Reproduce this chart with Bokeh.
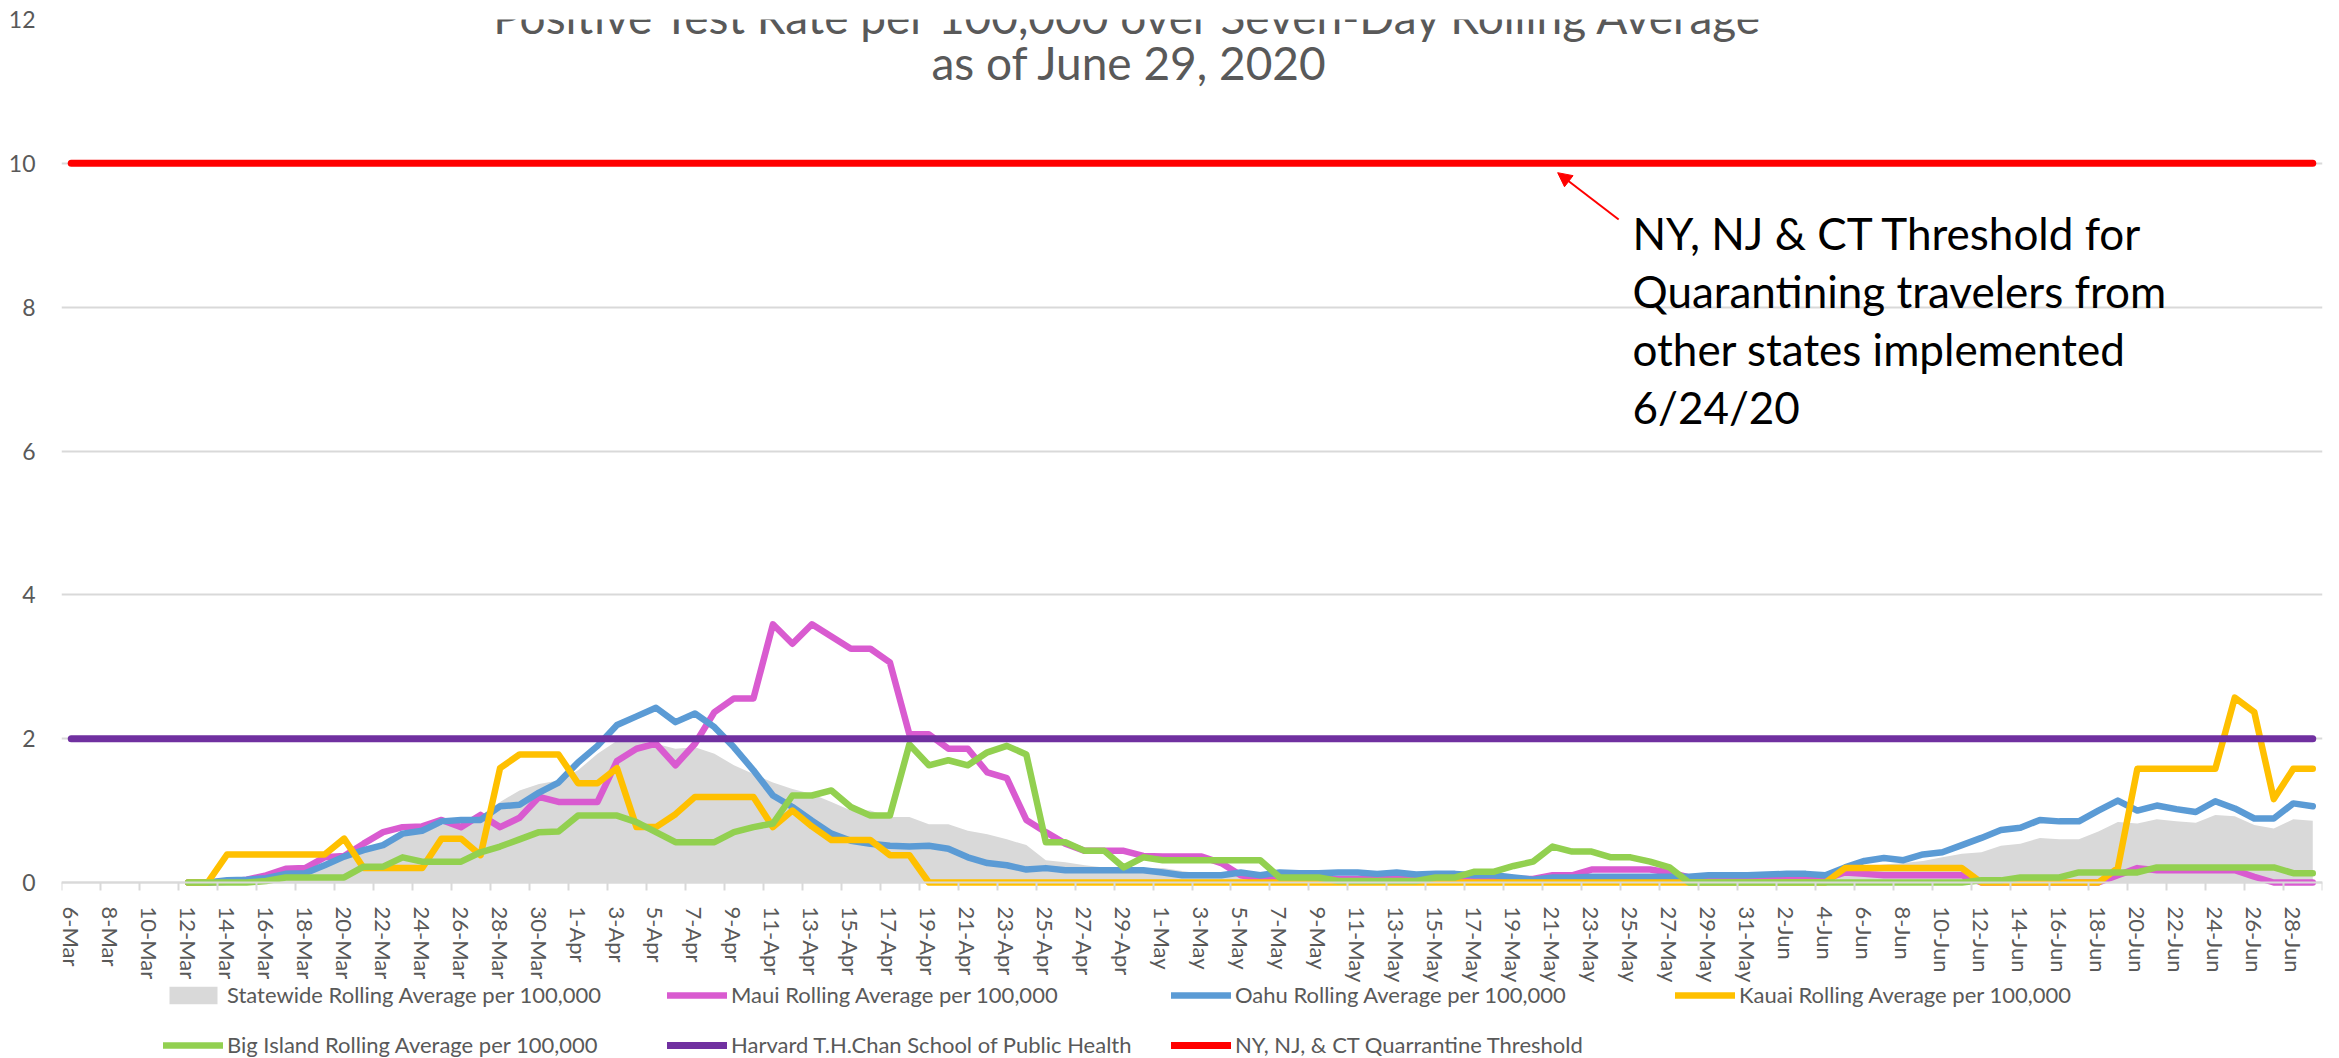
import datetime as dt
from bokeh.plotting import figure
from bokeh.models import (ColumnDataSource, Range1d, FixedTicker, Label, Arrow,
                          NormalHead, Legend, LegendItem)
from bokeh.embed import file_html
from bokeh.resources import INLINE

N = None
# ---------------- data ----------------
start_date = dt.date(2020, 3, 6)
n_days = 116
dates = [start_date + dt.timedelta(days=i) for i in range(n_days)]
date_labels = [f"{d.day}-{d.strftime('%b')}" for d in dates]
tick_days = list(range(0, n_days, 2))

statewide = [N, N, N, N, N, N, 0.00, 0.02, 0.04, 0.06,
             0.10, 0.14, 0.18, 0.28, 0.36, 0.45, 0.55, 0.65, 0.72, 0.80,
             0.85, 0.92, 1.12, 1.28, 1.37, 1.42, 1.56, 1.79, 1.97, 1.97,
             1.93, 1.86, 1.88, 1.79, 1.63, 1.51, 1.39, 1.30, 1.23, 1.12,
             1.00, 1.00, 0.91, 0.91, 0.81, 0.81, 0.72, 0.67, 0.60, 0.52,
             0.31, 0.28, 0.24, 0.21, 0.20, 0.20, 0.20, 0.16, 0.12, 0.12,
             0.10, 0.09, 0.08, 0.08, 0.08, 0.08, 0.07, 0.07, 0.07, 0.06,
             0.06, 0.06, 0.06, 0.06, 0.05, 0.05, 0.07, 0.07, 0.08, 0.08,
             0.08, 0.08, 0.07, 0.05, 0.05, 0.05, 0.05, 0.05, 0.05, 0.05,
             0.06, 0.15, 0.22, 0.25, 0.27, 0.30, 0.35, 0.40, 0.42, 0.51,
             0.54, 0.62, 0.60, 0.60, 0.71, 0.84, 0.82, 0.88, 0.85, 0.83,
             0.94, 0.92, 0.80, 0.75, 0.88, 0.86]

maui = [N, N, N, N, N, N, 0.00, 0.00, 0.01, 0.04,
        0.10, 0.19, 0.20, 0.35, 0.37, 0.54, 0.70, 0.77, 0.78, 0.87,
        0.77, 0.94, 0.77, 0.90, 1.19, 1.12, 1.12, 1.12, 1.69, 1.86,
        1.93, 1.63, 1.93, 2.37, 2.56, 2.56, 3.59, 3.32, 3.59, 3.42,
        3.25, 3.25, 3.06, 2.06, 2.06, 1.86, 1.86, 1.53, 1.45, 0.87,
        0.70, 0.54, 0.44, 0.44, 0.44, 0.37, 0.36, 0.36, 0.36, 0.27,
        0.10, 0.05, 0.05, 0.05, 0.05, 0.05, 0.05, 0.05, 0.05, 0.05,
        0.05, 0.05, 0.05, 0.05, 0.05, 0.05, 0.10, 0.10, 0.18, 0.18,
        0.18, 0.18, 0.14, 0.07, 0.05, 0.05, 0.05, 0.05, 0.05, 0.05,
        0.05, 0.14, 0.12, 0.10, 0.10, 0.10, 0.10, 0.10, 0.00, 0.00,
        0.00, 0.00, 0.00, 0.00, 0.00, 0.10, 0.20, 0.17, 0.17, 0.17,
        0.17, 0.17, 0.08, 0.00, 0.00, 0.00]

oahu = [N, N, N, N, N, N, 0.00, 0.00, 0.03, 0.04,
        0.06, 0.12, 0.13, 0.24, 0.36, 0.45, 0.52, 0.68, 0.72, 0.85,
        0.87, 0.87, 1.06, 1.08, 1.25, 1.39, 1.67, 1.90, 2.19, 2.31,
        2.43, 2.23, 2.35, 2.16, 1.88, 1.56, 1.21, 1.05, 0.86, 0.68,
        0.58, 0.54, 0.51, 0.50, 0.51, 0.47, 0.35, 0.27, 0.24, 0.18,
        0.20, 0.17, 0.17, 0.17, 0.17, 0.17, 0.14, 0.10, 0.10, 0.10,
        0.14, 0.10, 0.14, 0.13, 0.13, 0.14, 0.14, 0.12, 0.14, 0.11,
        0.12, 0.12, 0.10, 0.10, 0.07, 0.04, 0.07, 0.07, 0.08, 0.08,
        0.08, 0.08, 0.08, 0.08, 0.10, 0.10, 0.10, 0.11, 0.12, 0.12,
        0.10, 0.21, 0.30, 0.34, 0.31, 0.39, 0.42, 0.52, 0.62, 0.73,
        0.76, 0.87, 0.85, 0.85, 1.00, 1.14, 1.00, 1.07, 1.02, 0.98,
        1.13, 1.03, 0.89, 0.89, 1.10, 1.06]

kauai = [N, N, N, N, N, N, 0.00, 0.00, 0.39, 0.39,
         0.39, 0.39, 0.39, 0.39, 0.61, 0.20, 0.20, 0.20, 0.20, 0.61,
         0.61, 0.38, 1.59, 1.78, 1.78, 1.78, 1.38, 1.38, 1.59, 0.77,
         0.77, 0.95, 1.19, 1.19, 1.19, 1.19, 0.77, 1.00, 0.78, 0.59,
         0.59, 0.59, 0.38, 0.38, 0.00, 0.00, 0.00, 0.00, 0.00, 0.00,
         0.00, 0.00, 0.00, 0.00, 0.00, 0.00, 0.00, 0.00, 0.00, 0.00,
         0.00, 0.00, 0.00, 0.00, 0.00, 0.00, 0.00, 0.00, 0.00, 0.00,
         0.00, 0.00, 0.00, 0.00, 0.00, 0.00, 0.00, 0.00, 0.00, 0.00,
         0.00, 0.00, 0.00, 0.00, 0.00, 0.00, 0.00, 0.00, 0.00, 0.00,
         0.00, 0.20, 0.20, 0.20, 0.20, 0.20, 0.20, 0.20, 0.00, 0.00,
         0.00, 0.00, 0.00, 0.00, 0.00, 0.20, 1.58, 1.58, 1.58, 1.58,
         1.58, 2.57, 2.37, 1.16, 1.58, 1.58]

big_island = [N, N, N, N, N, N, 0.00, 0.00, 0.00, 0.00,
              0.02, 0.07, 0.07, 0.07, 0.07, 0.22, 0.22, 0.35, 0.29, 0.29,
              0.29, 0.42, 0.50, 0.60, 0.70, 0.71, 0.93, 0.93, 0.93, 0.84,
              0.70, 0.56, 0.56, 0.56, 0.70, 0.77, 0.82, 1.21, 1.21, 1.28,
              1.05, 0.93, 0.93, 1.92, 1.63, 1.70, 1.63, 1.81, 1.90, 1.78,
              0.56, 0.56, 0.44, 0.44, 0.21, 0.35, 0.31, 0.31, 0.31, 0.31,
              0.31, 0.31, 0.07, 0.07, 0.07, 0.02, 0.02, 0.02, 0.02, 0.02,
              0.07, 0.07, 0.15, 0.15, 0.23, 0.29, 0.50, 0.43, 0.43, 0.35,
              0.35, 0.29, 0.21, 0.00, 0.00, 0.00, 0.00, 0.00, 0.00, 0.00,
              0.00, 0.00, 0.00, 0.00, 0.00, 0.00, 0.00, 0.00, 0.03, 0.03,
              0.07, 0.07, 0.07, 0.14, 0.14, 0.14, 0.14, 0.21, 0.21, 0.21,
              0.21, 0.21, 0.21, 0.21, 0.13, 0.13]

harvard_threshold = [2.0] * n_days
nynjct_threshold = [10.0] * n_days

y_ticks = [0, 2, 4, 6, 8, 10, 12]

series_labels = ["Statewide Rolling Average per 100,000",
                 "Maui Rolling Average per 100,000",
                 "Oahu Rolling Average per 100,000",
                 "Kauai Rolling Average per 100,000",
                 "Big Island Rolling Average per 100,000",
                 "Harvard T.H.Chan School of Public Health",
                 "NY, NJ, & CT Quarrantine Threshold"]
title_lines = ["Positive Test Rate per 100,000 over Seven-Day Rolling Average",
               "as of June 29, 2020"]
note_lines = ["NY, NJ & CT Threshold for",
              "Quarantining travelers from",
              "other states implemented",
              "6/24/20"]

# ---------------- styling ----------------
FONT = "Lato"
GRAY_TXT = "#595959"
GRID = "#D9D9D9"
colors = {"state": "#D9D9D9", "maui": "#D95BD0", "oahu": "#5B9BD5",
          "kauai": "#FFC000", "big": "#92D050", "harvard": "#7030A0",
          "ny": "#FF0000"}

nan = float("nan")
def clean(vals):
    return [nan if v is None else v for v in vals]

days = list(range(n_days))
src = ColumnDataSource(dict(
    day=days, maui=clean(maui), oahu=clean(oahu), kauai=clean(kauai),
    big=clean(big_island), harvard=harvard_threshold, ny=nynjct_threshold))
area_days = [d for d, v in zip(days, statewide) if v is not None]
area_vals = [v for v in statewide if v is not None]
area_src = ColumnDataSource(dict(day=area_days, val=area_vals,
                                 zero=[0.0] * len(area_vals)))

# frame spans the whole lower part of the canvas; the x axis sits at y = 0
# and the legend lives in the empty band below it.
PX_PER_UNIT = 863.0 / 12.0
y_bottom = -(1058 - 882) / PX_PER_UNIT

p = figure(width=2339, height=1058, output_backend="svg", toolbar_location=None,
           x_range=Range1d(-0.5, n_days - 0.5), y_range=Range1d(y_bottom, 12),
           min_border_left=61, min_border_right=17, min_border_top=19,
           min_border_bottom=0)
p.outline_line_color = None
p.background_fill_color = "white"
p.border_fill_color = "white"

# axes
p.yaxis.ticker = FixedTicker(ticks=y_ticks)
p.yaxis.axis_line_color = None
p.yaxis.major_tick_line_color = None
p.yaxis.minor_tick_line_color = None
p.yaxis.major_label_text_font = FONT
p.yaxis.major_label_text_font_size = "23px"
p.yaxis.major_label_text_color = GRAY_TXT
p.yaxis.major_label_standoff = 20

p.xaxis.fixed_location = 0
p.xaxis.ticker = FixedTicker(ticks=tick_days,
                             minor_ticks=[d - 0.5 for d in tick_days] + [n_days - 0.5])
p.xaxis.major_label_overrides = {d: date_labels[d] for d in tick_days}
p.xaxis.major_label_orientation = "vertical"
p.xaxis.major_tick_out = 0
p.xaxis.major_tick_in = 0
p.xaxis.minor_tick_out = 8
p.xaxis.minor_tick_in = 0
p.xaxis.minor_tick_line_color = GRID
p.xaxis.minor_tick_line_width = 2
p.xaxis.axis_line_color = GRID
p.xaxis.axis_line_width = 2
p.xaxis.major_label_text_font = FONT
p.xaxis.major_label_text_font_size = "22px"
p.xaxis.major_label_text_color = GRAY_TXT
p.xaxis.major_label_standoff = 16

p.xgrid.grid_line_color = None
p.ygrid.ticker = FixedTicker(ticks=y_ticks)
p.ygrid.grid_line_color = GRID
p.ygrid.grid_line_width = 2

# glyphs
r_state = p.varea(x="day", y1="zero", y2="val", source=area_src,
                  fill_color=colors["state"])
lw = 6.5
r_maui = p.line("day", "maui", source=src, line_color=colors["maui"], line_width=lw,
                line_join="round", line_cap="round")
r_oahu = p.line("day", "oahu", source=src, line_color=colors["oahu"], line_width=lw,
                line_join="round", line_cap="round")
r_kauai = p.line("day", "kauai", source=src, line_color=colors["kauai"], line_width=lw,
                 line_join="round", line_cap="round")
r_big = p.line("day", "big", source=src, line_color=colors["big"], line_width=lw,
               line_join="round", line_cap="round")
r_harv = p.line("day", "harvard", source=src, line_color=colors["harvard"], line_width=7,
                line_join="round", line_cap="round")
r_ny = p.line("day", "ny", source=src, line_color=colors["ny"], line_width=7,
              line_join="round", line_cap="round")

# title (two lines)
for txt, yv in zip(title_lines, [12.04, 11.40]):
    p.add_layout(Label(x=54.3, y=yv, text=txt, text_align="center",
                       text_baseline="alphabetic", text_font=FONT,
                       text_font_size="46px", text_color=GRAY_TXT))

# annotation
for txt, yv in zip(note_lines, [9.03, 8.22, 7.415, 6.61]):
    p.add_layout(Label(x=80.1, y=yv, text=txt, text_align="left",
                       text_baseline="alphabetic", text_font=FONT,
                       text_font_size="44px", text_color="black"))
p.add_layout(Arrow(x_start=79.39, y_start=9.22, x_end=76.26, y_end=9.87,
                   line_color=colors["ny"], line_width=2,
                   end=NormalHead(size=14, fill_color=colors["ny"],
                                  line_color=colors["ny"], line_width=1)))

# legend: two single-row legends inside the lower band of the frame
renderers = [r_state, r_maui, r_oahu, r_kauai, r_big, r_harv, r_ny]
items = [LegendItem(label=l, renderers=[r]) for l, r in zip(series_labels, renderers)]

def make_legend(its, loc):
    return Legend(items=its, location=loc, orientation="horizontal",
                  glyph_width=60, glyph_height=22, label_standoff=4, label_width=413,
                  spacing=27, padding=0, margin=0, border_line_alpha=0,
                  background_fill_alpha=0, label_text_font=FONT,
                  label_text_font_size="22px", label_text_color=GRAY_TXT)

p.add_layout(make_legend(items[:4], (102, 50)), "center")
p.add_layout(make_legend(items[4:], (102, 0)), "center")

open("out.html", "w").write(file_html(p, INLINE))
